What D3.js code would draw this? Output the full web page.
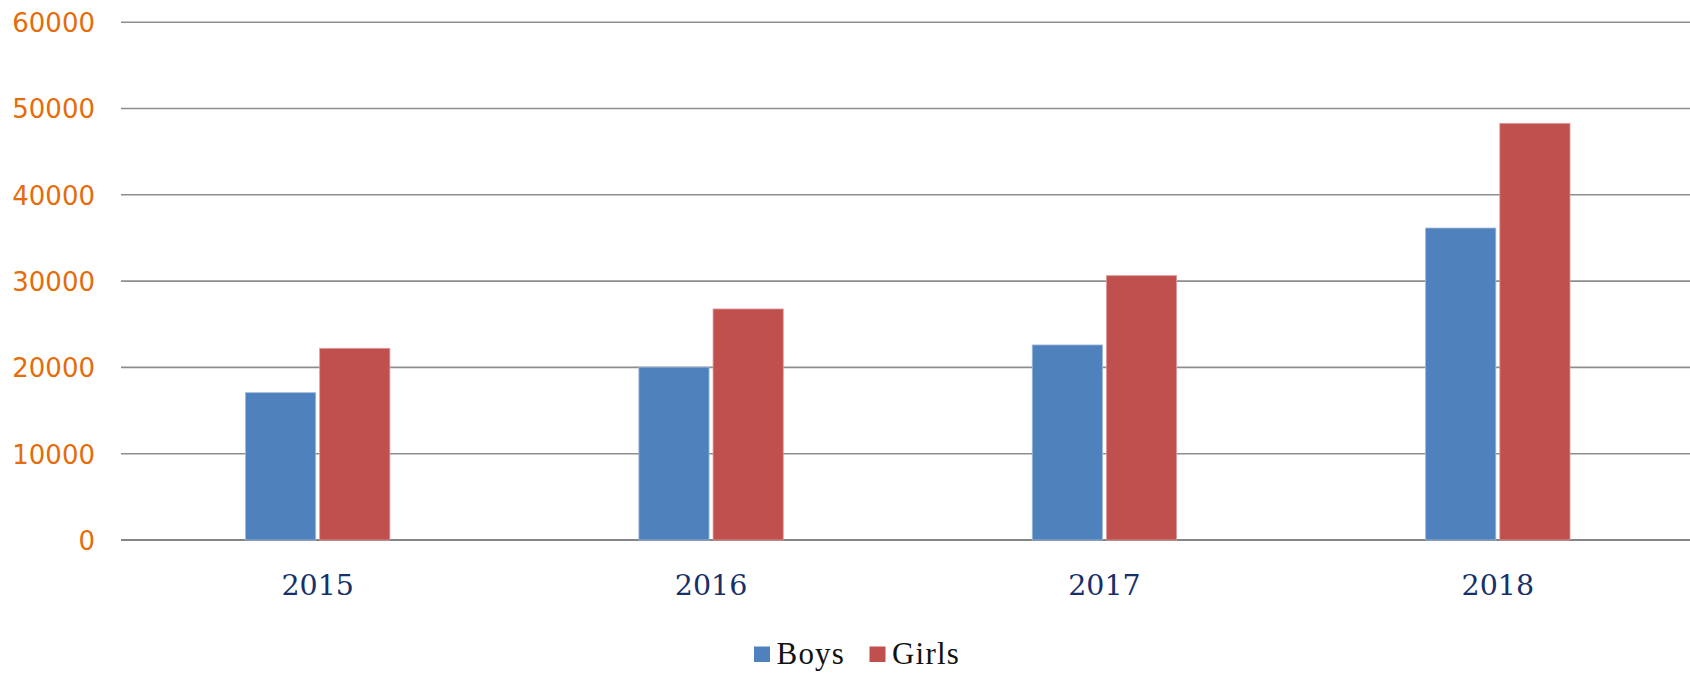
<!DOCTYPE html>
<html>
<head>
<meta charset="utf-8">
<script src="https://cdn.jsdelivr.net/npm/d3@7"></script>
<style>
  html, body { margin: 0; padding: 0; background: #fff; }
  svg { display: block; }
</style>
</head>
<body>
<svg id="chart" width="1690" height="673"></svg>
<script>
const categories = ["2015", "2016", "2017", "2018"];
const seriesNames = ["Boys", "Girls"];
const boys = [17070, 20030, 22600, 36150];
const girls = [22210, 26770, 30630, 48280];
const yTicks = [0, 10000, 20000, 30000, 40000, 50000, 60000];
const colors = ["#4F81BD", "#C0504D"];

(function () {
const svg = d3.select("#chart");
const plotLeft = 121, plotRight = 1690, plotTop = 22.2, plotBottom = 540;

const y = d3.scaleLinear().domain([0, 60000]).range([plotBottom, plotTop]);
const x0 = d3.scaleBand().domain(categories).range([plotLeft, 1694.5])
  .paddingInner(0.633).paddingOuter(0.3165);
const x1 = d3.scaleBand().domain(seriesNames).range([0, x0.bandwidth()])
  .paddingInner(0.054);

// gridlines
svg.append("g").selectAll("line").data(yTicks).join("line")
  .attr("x1", plotLeft).attr("x2", plotRight)
  .attr("y1", d => y(d)).attr("y2", d => y(d))
  .attr("stroke", d => d === 0 ? "#858585" : "#8e8e8e")
  .attr("stroke-width", d => d === 0 ? 2 : 1.6);

// y axis labels
const yAxis = d3.axisLeft(y).tickValues(yTicks).tickSize(0).tickPadding(0).tickFormat(d3.format("d"));
const yg = svg.append("g").attr("transform", `translate(95,0)`).call(yAxis);
yg.select(".domain").remove();
yg.selectAll("text")
  .attr("fill", "#E46C0A")
  .attr("font-family", "'DejaVu Sans', sans-serif")
  .attr("font-size", 26)
  .attr("dy", "0.36em");

// x axis labels
const xAxis = d3.axisBottom(x0).tickSize(0).tickPadding(0);
const xg = svg.append("g").attr("transform", `translate(0,${plotBottom})`).call(xAxis);
xg.select(".domain").remove();
xg.selectAll("text")
  .attr("fill", "#17306A")
  .attr("font-family", "'DejaVu Serif', serif")
  .attr("font-size", 28.5)
  .attr("dy", null)
  .attr("y", 55);

// bars
const data = categories.map((c, i) => ({ cat: c, vals: [boys[i], girls[i]] }));
const groups = svg.append("g").selectAll("g").data(data).join("g")
  .attr("transform", d => `translate(${x0(d.cat)},0)`);
groups.selectAll("rect").data(d => d.vals.map((v, j) => ({ name: seriesNames[j], v, j })))
  .join("rect")
  .attr("x", d => x1(d.name))
  .attr("width", x1.bandwidth())
  .attr("y", d => y(d.v))
  .attr("height", d => y(0) - y(d.v))
  .attr("fill", d => colors[d.j])
  .attr("stroke", d => d.j === 0 ? "#9fb9dc" : "#dc9a98")
  .attr("stroke-width", 0.8);

// legend
const legendItems = [
  { name: seriesNames[0], color: colors[0], x: 754 },
  { name: seriesNames[1], color: colors[1], x: 869.5 }
];
const lg = svg.append("g");
legendItems.forEach(it => {
  lg.append("rect").attr("x", it.x).attr("y", 646.5).attr("width", 16).attr("height", 15.5).attr("fill", it.color);
  lg.append("text").attr("x", it.x + 22.5).attr("y", 663.5)
    .attr("font-family", "'Liberation Serif', 'Times New Roman', serif")
    .attr("font-size", 31)
    .attr("letter-spacing", 1.2)
    .attr("fill", "#111")
    .text(it.name);
});
})();
</script>
</body>
</html>
